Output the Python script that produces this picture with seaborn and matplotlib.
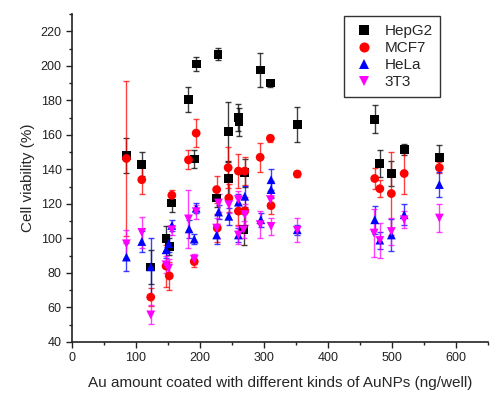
import numpy as np
import pandas as pd
import matplotlib
matplotlib.use("Agg")
import matplotlib.pyplot as plt
from matplotlib.ticker import MultipleLocator
import seaborn as sns

# ---- data ----
hepg2_x = [85, 109, 123, 147, 152, 156, 182, 191, 194, 226, 228, 244, 244, 260, 261, 268, 270, 294, 310, 352, 473, 481, 499, 519, 574]
hepg2_y = [148, 143, 83.5, 100, 95.5, 120.5, 180.5, 146, 201, 123.4, 206.7, 134.5, 162, 170, 167.5, 105, 138, 197.5, 190, 166, 169, 143.5, 137.6, 151.5, 147]
hepg2_e = [10, 7, 10, 7, 5, 5, 7, 5, 4, 5, 3.5, 10, 17, 8, 8, 9, 8, 10, 2, 10, 8, 8, 7, 3, 7]

mcf7_x = [85, 109, 123, 147, 152, 156, 182, 191, 194, 226, 227, 244, 245, 260, 260, 270, 270, 294, 310, 311, 352, 473, 481, 499, 519, 574]
mcf7_y = [146.3, 134, 66, 84, 78.3, 125, 145.5, 86.6, 161, 128.3, 106, 141, 123.4, 139, 115.8, 139, 116, 147, 158, 119, 137.3, 134.7, 128.8, 126, 137.6, 141]
mcf7_e = [45, 8, 5, 12, 8, 3, 5.5, 3, 8, 8, 8, 12, 8, 10, 8, 8, 8, 8.5, 2, 5, 2, 6, 5, 24, 12, 3]

hela_x = [85, 109, 123, 147, 151, 156, 183, 191, 194, 226, 229, 245, 260, 260, 270, 295, 311, 311, 352, 473, 481, 499, 519, 574]
hela_y = [89.2, 98.2, 83.5, 93.4, 97, 107.5, 105.5, 99.6, 117.5, 102, 115.3, 112.8, 121, 102, 124.4, 110.8, 134, 128.3, 105, 110.8, 99, 102, 113.7, 131.2]
hela_e = [8, 6, 17, 5, 5, 3, 5, 3, 3, 5, 4, 5, 5, 4, 6, 4, 6, 5, 3, 8, 5, 9, 6, 7]

t3_x = [85, 109, 123, 147, 151, 156, 182, 191, 194, 226, 229, 245, 260, 260, 268, 270, 294, 310, 311, 352, 472, 481, 499, 519, 574]
t3_y = [96.9, 103.5, 55.7, 84.7, 82.8, 105, 111.3, 88, 115.5, 106, 120.5, 119.6, 122.5, 102, 105, 113.8, 108, 122.5, 107, 104.7, 103.1, 98.8, 104, 110.8, 111.8]
t3_e = [8, 9, 5.5, 5, 5, 3, 17, 3, 4, 6, 5, 5, 5, 5, 5, 6, 8, 5, 5, 7, 14, 10, 8, 5, 8]

series_names = ["HepG2", "MCF7", "HeLa", "3T3"]
colors = {"HepG2": "#000000", "MCF7": "#ff0000", "HeLa": "#0000ff", "3T3": "#ff00ff"}
markers = {"HepG2": "s", "MCF7": "o", "HeLa": "^", "3T3": "v"}

frames = []
for name, xs, ys, es in [("HepG2", hepg2_x, hepg2_y, hepg2_e),
                         ("MCF7", mcf7_x, mcf7_y, mcf7_e),
                         ("HeLa", hela_x, hela_y, hela_e),
                         ("3T3", t3_x, t3_y, t3_e)]:
    frames.append(pd.DataFrame({"x": xs, "y": ys, "err": es, "cell": name}))
df = pd.concat(frames, ignore_index=True)

sns.set_style("ticks")
plt.rcParams["font.family"] = ["Liberation Sans", "DejaVu Sans"]

fig = plt.figure(figsize=(5.03, 3.94), dpi=100)
ax = fig.add_axes([72/503, 52/394, 416/503, 328/394])

for name in series_names:
    sub = df[df["cell"] == name]
    ax.errorbar(sub["x"], sub["y"], yerr=sub["err"], fmt="none",
                ecolor=colors[name], alpha=0.75, elinewidth=1.0,
                capsize=2.5, capthick=1.0, zorder=2)

sns.scatterplot(data=df, x="x", y="y", hue="cell", style="cell",
                hue_order=series_names, style_order=series_names,
                palette=colors, markers=markers, s=40, linewidth=0,
                ax=ax, zorder=3, legend=True)

ax.set_xlim(0, 650)
ax.set_ylim(40, 230)
ax.set_xticks([0, 100, 200, 300, 400, 500, 600])
ax.set_yticks(list(range(40, 221, 20)))
ax.xaxis.set_minor_locator(MultipleLocator(50))
ax.yaxis.set_minor_locator(MultipleLocator(10))
ax.tick_params(axis="both", which="major", direction="out", length=4, width=1, labelsize=9, colors="#222222")
ax.tick_params(axis="both", which="minor", direction="out", length=2.5, width=1, colors="#222222")
for s in ["left", "bottom"]:
    ax.spines[s].set_color("#222222")
    ax.spines[s].set_linewidth(1.2)
sns.despine(ax=ax)

ax.set_xlabel("Au amount coated with different kinds of AuNPs (ng/well)", fontsize=11, labelpad=8)
ax.set_ylabel("Cell viability (%)", fontsize=11, labelpad=4)

handles, labels = ax.get_legend_handles_labels()
leg = ax.legend(handles, labels, loc="upper right", bbox_to_anchor=(0.885, 0.993),
                frameon=True, fancybox=False, edgecolor="black", fontsize=11,
                handlelength=1.6, handletextpad=0.55, labelspacing=0.2,
                borderpad=0.5, borderaxespad=0.0, markerscale=1.15)
leg.get_frame().set_linewidth(1.0)

fig.savefig("out.png", dpi=100)
